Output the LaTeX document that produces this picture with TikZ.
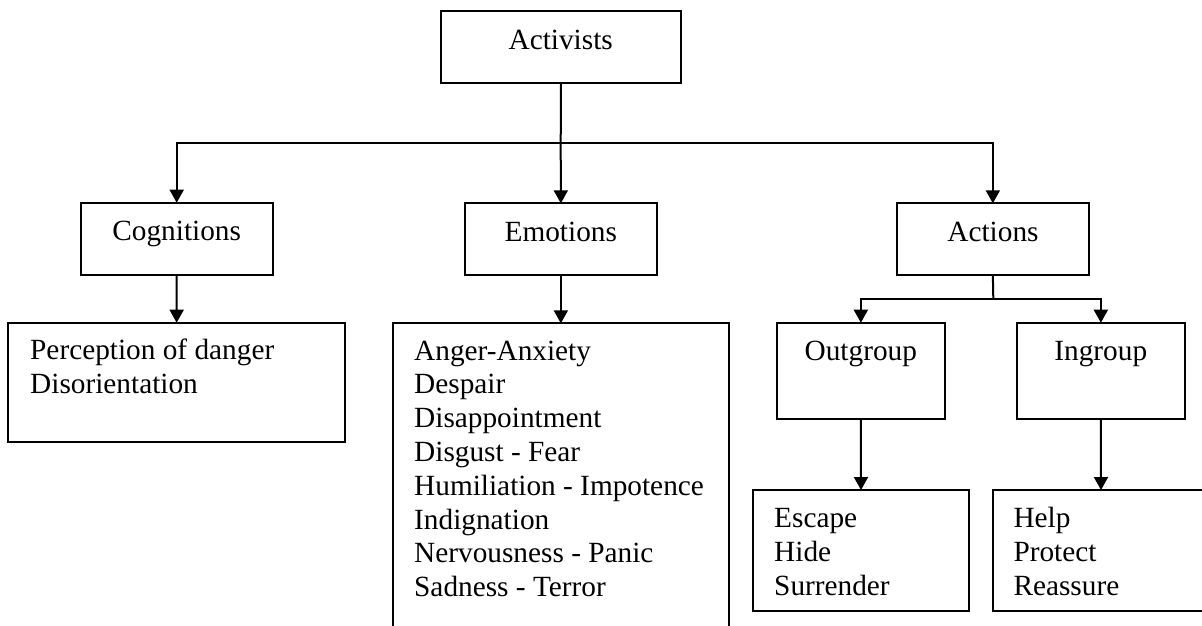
\documentclass[tikz,border=0pt]{standalone}
\usepackage{fontspec}
\setmainfont{Liberation Serif}
\usetikzlibrary{arrows.meta}
\begin{document}
\begin{tikzpicture}[x=1pt,y=-1pt,
  box/.style={draw, line width=2pt, rectangle, anchor=north west, inner sep=0pt, outer sep=0pt},
  txt/.style={inner sep=0pt, font={\fontsize{29.3}{33.8}\selectfont}},
  lst/.style={txt, anchor=base west, align=left},
  ttl/.style={txt, anchor=base},
  link/.style={line width=2pt},
  arr/.style={line width=2pt, -{Triangle[width=14pt,length=13pt]}}]
\useasboundingbox (0,0) rectangle (1202,625);
\clip (0,0) rectangle (1202,625);
% boxes
\node[box, minimum width=240pt, minimum height=72pt] (act) at (441,11) {};
\node[box, minimum width=192pt, minimum height=72.3pt] (cog) at (80.7,202.7) {};
\node[box, minimum width=191.7pt, minimum height=71.7pt] (emo) at (465,203.3) {};
\node[box, minimum width=192.3pt, minimum height=71.7pt] (actn) at (896.7,203.3) {};
\node[box, minimum width=336.7pt, minimum height=119.6pt] (per) at (8.3,322.7) {};
\node[box, minimum width=336.3pt, minimum height=360pt] (emol) at (392.7,323.3) {};
\node[box, minimum width=168.3pt, minimum height=96.3pt] (out) at (776.7,322.7) {};
\node[box, minimum width=168.3pt, minimum height=96.3pt] (ing) at (1016.7,322.7) {};
\node[box, minimum width=216.6pt, minimum height=120.7pt] (esc) at (752.7,490) {};
\node[box, minimum width=215.4pt, minimum height=120.7pt] (hlp) at (993.3,490) {};
% texts
\node[ttl] (actT) at (560.7,49.3) {Activists};
\node[ttl] (cogT) at (176.7,240) {Cognitions};
\node[ttl] (emoT) at (560.8,241.7) {Emotions};
\node[ttl] (actnT) at (993,241.7) {Actions};
\node[ttl] (outT) at (860.8,360.7) {Outgroup};
\node[ttl] (ingT) at (1100.8,360.7) {Ingroup};
\node[lst] (perT) at (30,393.3) {Perception of danger\\Disorientation};
\node[lst] (emolT) at (414,596.6) {Anger-Anxiety\\Despair\\Disappointment\\Disgust - Fear\\Humiliation - Impotence\\Indignation\\Nervousness - Panic\\Sadness - Terror};
\node[lst] (escT) at (774,595) {Escape\\Hide\\Surrender};
\node[lst] (hlpT) at (1013.3,595) {Help\\Protect\\Reassure};
% connectors
\coordinate (j1) at (560.7,142.7);
\coordinate (j2) at (993.3,298.7);
\draw[link] (act.south) -- (j1);
\draw[arr] (j1) -| (cog.north);
\draw[arr] (j1) -- (emo.north);
\draw[arr] (j1) -| (actn.north);
\draw[arr] (cog.south) -- (per.north);
\draw[arr] (emo.south) -- (emol.north);
\draw[link] (actn.south) -- (j2);
\draw[arr] (j2) -| (out.north);
\draw[arr] (j2) -| (ing.north);
\draw[arr] (out.south) -- (esc.north);
\draw[arr] (ing.south) -- (hlp.north);
\end{tikzpicture}
\end{document}
